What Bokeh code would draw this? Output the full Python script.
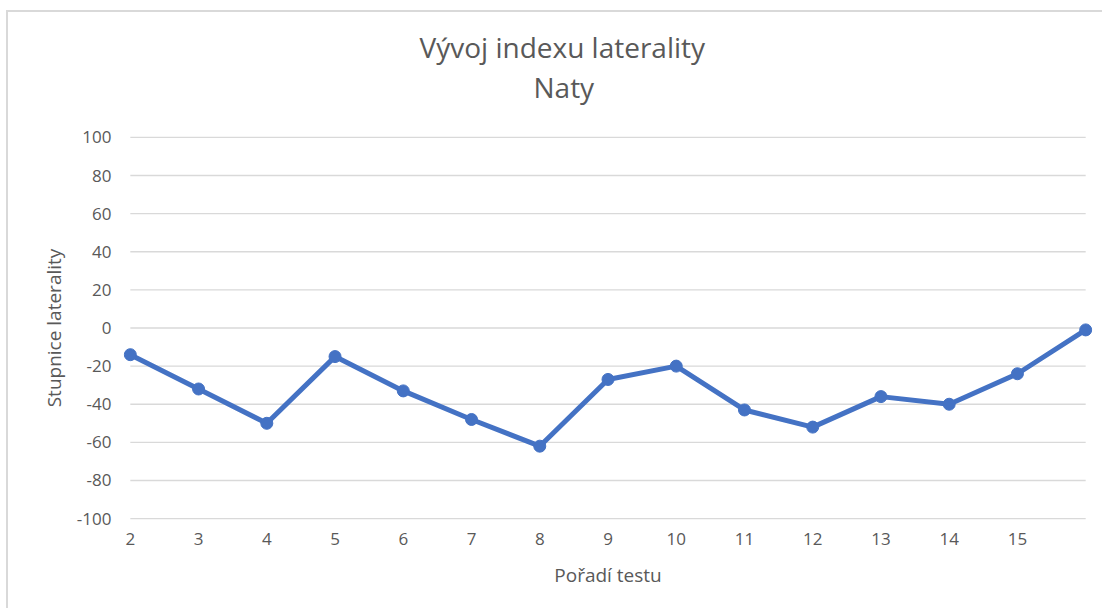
from bokeh.plotting import figure
from bokeh.models import Range1d, FixedTicker, Title, ColumnDataSource
from bokeh.embed import file_html
from bokeh.resources import INLINE

# Data
test_order = [2, 3, 4, 5, 6, 7, 8, 9, 10, 11, 12, 13, 14, 15, 16]
laterality = [-14, -32, -50, -15, -33, -48, -62, -27, -20, -43, -52, -36, -40, -24, -1]
x_tick_labels = ["2", "3", "4", "5", "6", "7", "8", "9", "10", "11", "12", "13", "14", "15", ""]
y_ticks = [-100, -80, -60, -40, -20, 0, 20, 40, 60, 80, 100]
y_tick_labels = ["-100", "-80", "-60", "-40", "-20", "0", "20", "40", "60", "80", "100"]

title_line1 = "Vývoj indexu laterality"
title_line2 = "Naty"
x_title = "Pořadí testu"
y_title = "Stupnice laterality"

FONT = "Open Sans"
TXT = "#595959"
BLUE = "#4472C4"
GRID = "#D9D9D9"

p = figure(width=1096, height=598, output_backend="svg", toolbar_location=None,
           x_range=Range1d(test_order[0] - 0.1, test_order[-1] + 0.1),
           y_range=Range1d(-101, 101),
           min_border_left=115, min_border_right=12, min_border_top=123,
           min_border_bottom=90)
p.outline_line_color = None
p.styles = {"margin-left": "6px", "margin-top": "10px",
            "border-left": "2px solid #d9d9d9", "border-top": "2px solid #d9d9d9"}

# horizontal grid lines spanning the category extent
p.segment(x0=[test_order[0]] * len(y_ticks), x1=[test_order[-1]] * len(y_ticks),
          y0=y_ticks, y1=y_ticks, line_color=GRID, line_width=1.3)

src = ColumnDataSource(dict(x=test_order, y=laterality))
p.line("x", "y", source=src, line_color=BLUE, line_width=5)
p.scatter("x", "y", source=src, size=12, fill_color=BLUE, line_color=BLUE)

# axes
p.xaxis.ticker = FixedTicker(ticks=test_order)
p.xaxis.major_label_overrides = dict(zip(test_order, x_tick_labels))
p.yaxis.ticker = FixedTicker(ticks=y_ticks)
p.yaxis.major_label_overrides = dict(zip(y_ticks, y_tick_labels))
for ax in (p.xaxis, p.yaxis):
    ax.axis_line_color = None
    ax.major_tick_line_color = None
    ax.minor_tick_line_color = None
    ax.major_tick_out = 0
    ax.major_tick_in = 0
    ax.major_label_text_font = FONT
    ax.major_label_text_font_size = "17px"
    ax.major_label_text_color = TXT
    ax.axis_label_text_font = FONT
    ax.axis_label_text_font_size = "19px"
    ax.axis_label_text_color = TXT
    ax.axis_label_text_font_style = "normal"
p.xaxis.major_label_standoff = 12
p.yaxis.major_label_standoff = 12
p.xaxis.axis_label = x_title
p.yaxis.axis_label = y_title
p.xaxis.axis_label_standoff = 14
p.yaxis.axis_label_standoff = 7

p.xgrid.grid_line_color = None
p.ygrid.grid_line_color = None

# title (two lines), stacked upward from the plot frame
spacer = Title(text=" ", text_font_size="1px", standoff=27)
t2 = Title(text=title_line2, align="left", offset=410, standoff=0,
           text_font=FONT, text_font_size="28px", text_color=TXT,
           text_font_style="normal")
t1 = Title(text=title_line1, align="left", offset=296, standoff=0,
           text_font=FONT, text_font_size="28px", text_color=TXT,
           text_font_style="normal")
p.add_layout(spacer, "above")
p.add_layout(t2, "above")
p.add_layout(t1, "above")

open("out.html", "w").write(file_html(p, INLINE))
